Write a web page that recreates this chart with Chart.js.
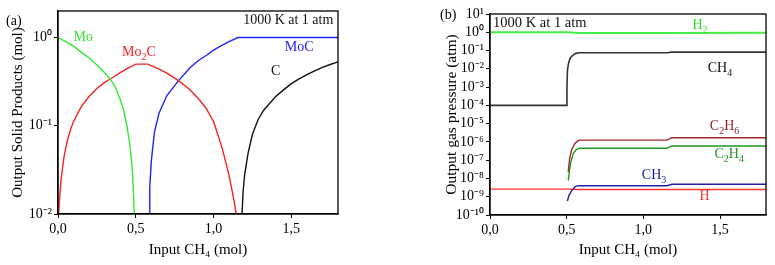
<!DOCTYPE html>
<html lang="en">
<head>
  <meta charset="UTF-8">
  <title>Mo carburization 1000 K</title>
  <style>
    body { margin: 0; background: #fff; }
    .panel { position: absolute; top: 0; }
  </style>
</head>
<body>
  <div class="panel" style="left:0"><canvas id="chartA" width="385" height="265"></canvas></div>
  <div class="panel" style="left:385px"><canvas id="chartB" width="390" height="265"></canvas></div>

  <script src="https://cdn.jsdelivr.net/npm/chart.js@4/dist/chart.umd.min.js"></script>
  <script>
    // ---- panel (a): solid products (mol)
    const moX = [0, 0.05, 0.1, 0.165, 0.2, 0.25, 0.3, 0.336, 0.37, 0.4, 0.422, 0.443, 0.46, 0.47, 0.48, 0.485, 0.49]
    const moY = [1.0, 0.9, 0.8, 0.65, 0.59, 0.49, 0.4, 0.337, 0.27, 0.2, 0.15, 0.1, 0.065, 0.045, 0.028, 0.018, 0.01]

    const mo2cX = [0.004, 0.01, 0.02, 0.04, 0.06, 0.08, 0.1, 0.15, 0.2, 0.25, 0.3, 0.35, 0.4, 0.45, 0.5, 0.578,
                   0.65, 0.7, 0.775, 0.85, 0.9, 0.95, 1.0, 1.05, 1.08, 1.1, 1.12, 1.135, 1.145]
    const mo2cY = [0.01, 0.015, 0.025, 0.046, 0.068, 0.09, 0.112, 0.165, 0.215, 0.265, 0.31, 0.35, 0.4, 0.45, 0.5, 0.5,
                   0.44, 0.395, 0.325, 0.255, 0.205, 0.16, 0.112, 0.06, 0.038, 0.027, 0.018, 0.013, 0.01]

    const mocX = [0.585, 0.59, 0.6, 0.62, 0.65, 0.7, 0.75, 0.775, 0.85, 0.9, 0.955, 1.0, 1.05, 1.1, 1.156, 1.8]
    const mocY = [0.01, 0.02, 0.04, 0.085, 0.14, 0.22, 0.285, 0.325, 0.458, 0.546, 0.63, 0.72, 0.81, 0.9, 1.0, 1.0]

    const cX = [1.183, 1.19, 1.2, 1.222, 1.25, 1.286, 1.32, 1.361, 1.4, 1.45, 1.5, 1.55, 1.6, 1.65, 1.7, 1.75, 1.8]
    const cY = [0.01, 0.018, 0.028, 0.049, 0.08, 0.117, 0.148, 0.18, 0.215, 0.255, 0.3, 0.34, 0.38, 0.42, 0.46, 0.495, 0.53]

    // ---- panel (b): gas pressures (atm)
    const h2X = [0, 0.5, 0.58, 1.17, 1.8]
    const h2Y = [1.0, 1.0, 0.92, 0.92, 0.93]

    const ch4X = [0, 0.5, 0.502, 0.505, 0.51, 0.516, 0.525, 0.54, 0.56, 0.58, 1.16, 1.18, 1.8]
    const ch4Y = [1e-4, 1e-4, 1e-3, 8e-3, 0.016, 0.027, 0.04, 0.055, 0.07, 0.076, 0.076, 0.082, 0.082]

    const c2h6X = [0.51, 0.52, 0.532, 0.554, 0.57, 0.586, 1.155, 1.185, 1.8]
    const c2h6Y = [2.3e-8, 1.3e-7, 3.6e-7, 8.3e-7, 1.1e-6, 1.26e-6, 1.26e-6, 1.7e-6, 1.7e-6]

    const c2h4X = [0.51, 0.525, 0.543, 0.56, 0.572, 0.586, 1.155, 1.185, 1.8]
    const c2h4Y = [7.6e-9, 6.8e-8, 2.3e-7, 3.6e-7, 4.2e-7, 4.5e-7, 4.5e-7, 6e-7, 6e-7]

    const ch3X = [0.505, 0.515, 0.532, 0.554, 0.57, 0.58, 1.155, 1.185, 1.8]
    const ch3Y = [5.8e-10, 1.2e-9, 2.1e-9, 3.5e-9, 3.9e-9, 4e-9, 4e-9, 4.8e-9, 4.8e-9]

    const hX = [0, 0.5, 0.58, 1.8]
    const hY = [2.6e-9, 2.6e-9, 2.5e-9, 2.5e-9]

    const xTicks = [0, 0.5, 1.0, 1.5]
    const aDecades = [-2, -1, 0]
    const bDecades = [1, 0, -1, -2, -3, -4, -5, -6, -7, -8, -9, -10]

    const serif = "'Liberation Serif', 'Times New Roman', serif"
    const supMap = { '-': '\u207B', '0': '\u2070', '1': '\u00B9', '2': '\u00B2', '3': '\u00B3', '4': '\u2074',
                     '5': '\u2075', '6': '\u2076', '7': '\u2077', '8': '\u2078', '9': '\u2079' }
    const pow10 = e => '10' + String(e).split('').map(c => supMap[c]).join('')

    const pts = (xs, ys) => xs.map((x, i) => ({ x: x, y: ys[i] }))
    const line = (label, xs, ys, color, width) => ({
      label: label, data: pts(xs, ys), borderColor: color, borderWidth: width || 1.4,
      pointRadius: 0, tension: 0, fill: false
    })

    // text like "Mo_2C" -> subscript 2
    function drawRich(ctx, text, x, y, size, color, align) {
      const parts = text.split(/(_\d)/).filter(s => s)
      const sub = size * 0.72
      let w = 0
      parts.forEach(p => {
        ctx.font = (p[0] === '_' ? sub : size) + 'px ' + serif
        w += ctx.measureText(p[0] === '_' ? p.slice(1) : p).width
      })
      let cx = align === 'left' ? x : align === 'right' ? x - w : x - w / 2
      ctx.fillStyle = color
      ctx.textBaseline = 'middle'
      ctx.textAlign = 'left'
      parts.forEach(p => {
        if (p[0] === '_') {
          ctx.font = sub + 'px ' + serif
          ctx.fillText(p.slice(1), cx, y + size * 0.35)
          cx += ctx.measureText(p.slice(1)).width
        } else {
          ctx.font = size + 'px ' + serif
          ctx.fillText(p, cx, y)
          cx += ctx.measureText(p).width
        }
      })
    }

    // box round the plot + labels placed in data coordinates through the scales
    const framePlugin = {
      id: 'frame',
      afterDraw(chart) {
        const { ctx, chartArea: a, scales } = chart
        ctx.save()
        ctx.strokeStyle = '#000'
        ctx.lineWidth = 1.3
        ctx.strokeRect(a.left, a.top, a.right - a.left, a.bottom - a.top)
        const o = chart.options.plugins.frame
        o.labels.forEach(l => {
          const px = scales.x.getPixelForValue(l.x)
          const py = scales.y.getPixelForValue(l.y)
          drawRich(ctx, l.text, px, py, l.size || 14, l.color, l.align)
        })
        ctx.font = '14px ' + serif
        ctx.fillStyle = '#000'
        ctx.textAlign = 'left'
        ctx.textBaseline = 'middle'
        ctx.fillText(o.tag, o.tagX, o.tagY)
        ctx.restore()
      }
    }

    function makeOptions(cfg) {
      return {
        responsive: false,
        animation: false,
        layout: { padding: cfg.padding },
        plugins: {
          legend: { display: false },
          tooltip: { enabled: false },
          frame: { labels: cfg.labels, tag: cfg.tag, tagX: cfg.tagX, tagY: cfg.tagY }
        },
        scales: {
          x: {
            type: 'linear', min: 0, max: 1.8,
            afterBuildTicks: s => { s.ticks = xTicks.map(v => ({ value: v })) },
            afterFit: s => { s.height = cfg.xHeight },
            ticks: {
              color: '#000', padding: 3, maxRotation: 0, autoSkip: false,
              font: { family: serif, size: 14 },
              callback: v => v.toFixed(1).replace('.', ',')
            },
            grid: { drawOnChartArea: false, drawTicks: true, tickLength: 4, color: '#000' },
            border: { color: '#000', width: 1.3 },
            title: {
              display: true, text: 'Input CH\u2084 (mol)', color: '#000', padding: 0,
              font: { family: serif, size: 15 }
            }
          },
          y: {
            type: 'logarithmic', min: cfg.yMin, max: cfg.yMax,
            afterBuildTicks: s => { s.ticks = cfg.decades.map(e => ({ value: Math.pow(10, e) })) },
            afterFit: s => { s.width = cfg.yWidth },
            ticks: {
              color: '#000', padding: 2, autoSkip: false,
              font: { family: serif, size: 14 },
              callback: v => pow10(Math.round(Math.log10(v)))
            },
            grid: { drawOnChartArea: false, drawTicks: true, tickLength: 4, color: '#000' },
            border: { color: '#000', width: 1.3 },
            title: {
              display: true, text: cfg.yTitle, color: '#000', padding: 0,
              font: { family: serif, size: cfg.yTitleSize }
            }
          }
        }
      }
    }

    new Chart(document.getElementById('chartA'), {
      type: 'line',
      data: {
        datasets: [
          line('Mo', moX, moY, '#33e833'),
          line('Mo2C', mo2cX, mo2cY, '#f52222'),
          line('MoC', mocX, mocY, '#2323f0'),
          line('C', cX, cY, '#111')
        ]
      },
      options: makeOptions({
        padding: { top: 11, right: 47, left: 9, bottom: 6 },
        xHeight: 45, yWidth: 49,
        yMin: 0.01, yMax: 2, decades: aDecades,
        yTitle: 'Output Solid Products (mol)', yTitleSize: 15,
        tag: '(a)', tagX: 6, tagY: 21,
        labels: [
          { text: 'Mo', x: 0.1, y: 1.0, color: '#33e833', align: 'left' },
          { text: 'Mo_2C', x: 0.52, y: 0.68, color: '#f52222' },
          { text: 'MoC', x: 1.55, y: 0.78, color: '#2323f0' },
          { text: 'C', x: 1.4, y: 0.41, color: '#111' },
          { text: '1000 K at 1 atm', x: 1.77, y: 1.55, color: '#111', align: 'right' }
        ]
      }),
      plugins: [framePlugin]
    })

    new Chart(document.getElementById('chartB'), {
      type: 'line',
      data: {
        datasets: [
          line('H2', h2X, h2Y, '#44ee44', 2),
          line('CH4', ch4X, ch4Y, '#333', 1.6),
          line('C2H6', c2h6X, c2h6Y, '#a02a2a'),
          line('C2H4', c2h4X, c2h4Y, '#1f991f'),
          line('CH3', ch3X, ch3Y, '#2020a0'),
          line('H', hX, hY, '#ff3333')
        ]
      },
      options: makeOptions({
        padding: { top: 14, right: 9, left: 58, bottom: 6 },
        xHeight: 44, yWidth: 47,
        yMin: 1e-10, yMax: 10, decades: bDecades,
        yTitle: 'Output gas pressure (atm)', yTitleSize: 15.5,
        tag: '(b)', tagX: 55, tagY: 15,
        labels: [
          { text: '1000 K at 1 atm', x: 0.02, y: 3.2, color: '#111', align: 'left', size: 14.5 },
          { text: 'H_2', x: 1.37, y: 2.4, color: '#33dd33' },
          { text: 'CH_4', x: 1.5, y: 0.011, color: '#111' },
          { text: 'C_2H_6', x: 1.53, y: 7e-6, color: '#902525' },
          { text: 'C_2H_4', x: 1.56, y: 2e-7, color: '#1f991f' },
          { text: 'CH_3', x: 1.07, y: 1.4e-8, color: '#2020a0' },
          { text: 'H', x: 1.4, y: 1.1e-9, color: '#ff3333' }
        ]
      }),
      plugins: [framePlugin]
    })
  </script>
</body>
</html>
